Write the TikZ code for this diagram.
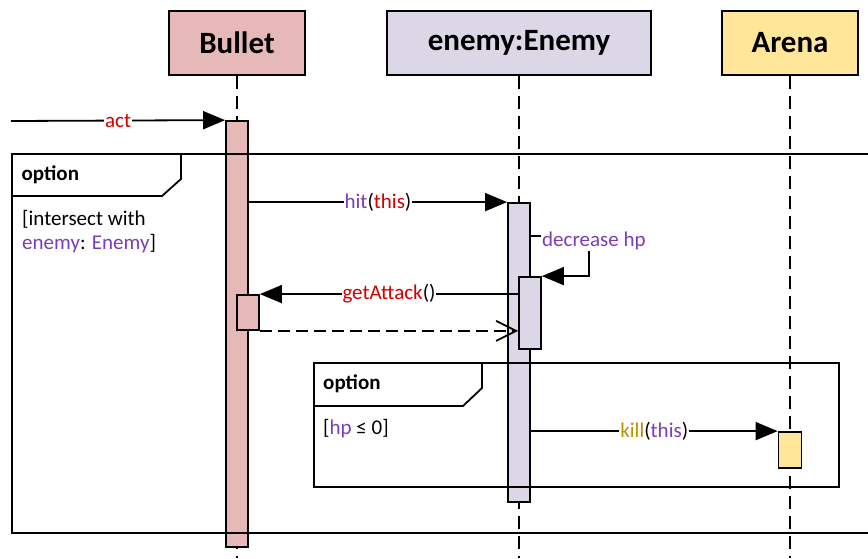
\documentclass[tikz,border=0pt]{standalone}
\usepackage{fontspec}
\setmainfont{Carlito}
\usepackage{xcolor}
\usepackage{tikz}
\usetikzlibrary{arrows.meta, positioning, calc}

\definecolor{bulletpink}{HTML}{E6B9B8}
\definecolor{enemylilac}{HTML}{DCD7E6}
\definecolor{arenagold}{HTML}{FFE699}
\definecolor{txtpurple}{HTML}{7A3DB8}
\definecolor{txtred}{HTML}{D00000}
\definecolor{txtgold}{HTML}{BF9000}

\newcommand{\mpurple}[1]{\textcolor{txtpurple}{#1}}
\newcommand{\mred}[1]{\textcolor{txtred}{#1}}
\newcommand{\mgold}[1]{\textcolor{txtgold}{#1}}

\begin{document}
\begin{tikzpicture}[
  x=1pt, y=-1pt,
  font=\fontsize{21}{24}\selectfont,
  obj/.style   = {draw, line width=2pt, minimum width=136pt,
                  minimum height=64pt, inner sep=0pt,
                  font=\fontsize{31}{36}\selectfont\bfseries},
  life/.style  = {line width=1.8pt, dash pattern=on 13pt off 7pt},
  bar/.style   = {draw, line width=1.8pt, minimum width=22pt, inner sep=0pt},
  msg/.style   = {-{Triangle[length=22pt,width=18pt]}, line width=1.8pt},
  ret/.style   = {-{Straight Barb[length=20pt,width=20pt]}, line width=1.8pt,
                  dash pattern=on 12pt off 6pt},
  lbl/.style   = {fill=white, inner sep=1pt},
  frag/.style  = {draw, line width=1.8pt, anchor=north west, inner sep=0pt},
  fragline/.style = {line width=1.8pt},
  tag/.style   = {anchor=west, inner sep=0pt,
                  font=\fontsize{21}{24}\selectfont\bfseries},
  guard/.style = {align=left, inner sep=0pt},
]

\useasboundingbox (0,0) rectangle (868,558);
\clip (0,0) rectangle (868,558);

%% Participants
\node[obj, fill=bulletpink] (bullet) at (237,43) {Bullet};
\node[obj, fill=enemylilac, minimum width=264pt] (enemy) at (519,43) {enemy:Enemy};
\node[obj, fill=arenagold] (arena) at (790,43) {Arena};

%% Lifelines
\coordinate (bottom) at (0,558);
\draw[life] (bullet.south) -- (bullet.south |- bottom);
\draw[life] (enemy.south)  -- (enemy.south |- bottom);
\draw[life] (arena.south)  -- (arena.south |- bottom);

%% Activation bars
\node[bar, fill=bulletpink, minimum height=426pt] (bulletbar) at (237,334) {};
\node[bar, fill=bulletpink, minimum height=35pt]  (bulletsub) at (248,312.5) {};
\node[bar, fill=enemylilac, minimum height=299pt] (enemybar)  at (519,352.5) {};
\node[bar, fill=enemylilac, minimum height=72pt]  (enemysub)  at (530,313) {};
\node[bar, fill=arenagold, minimum width=23pt, minimum height=36pt] (arenabar) at (790,450) {};

%% Outer option fragment
\node[frag, minimum width=869pt, minimum height=379pt] (optA) at (11,153) {};
\draw[fragline] (optA.north west) ++(170,0) -- ++(0,26) -- ++(-19,17) -- ++(-151,0);
\node[tag] (optAtag) at ($(optA.north west)+(10.5,22)$) {option};
\node[guard, anchor=north west] (optAguard) at ($(optA.north west)+(11,57)$)
     {[intersect with\\
      \mpurple{enemy}: \mpurple{Enemy}]};

%% Inner option fragment
\node[frag, minimum width=525pt, minimum height=124pt] (optB) at (313,362) {};
\draw[fragline] (optB.north west) ++(169,0) -- ++(0,26) -- ++(-19,18) -- ++(-150,0);
\node[tag] (optBtag) at ($(optB.north west)+(10,22)$) {option};
\node[guard, anchor=west] (optBguard) at ($(optB.north west)+(10,67)$)
     {[\mpurple{hp} ≤ 0]};

%% Messages
\coordinate (actstart) at (11,121);
\draw[msg] (actstart) -- node[lbl] {\mred{act}} (bulletbar.north west);

\draw[msg] (bulletbar.east |- enemybar.north) --
     node[lbl] {\mpurple{hit}(\mred{this})} (enemybar.north west);

\coordinate (hpturn) at (589,236);
\draw[msg] (enemybar.east |- hpturn) -- (hpturn) |- (enemysub.north east);
\node[lbl, anchor=west] (hplbl) at (541,241) {\mpurple{decrease hp}};

\draw[msg] (enemysub.west |- bulletsub.north) --
     node[lbl] {\mred{getAttack}()} (bulletsub.north east);
\draw[ret] (bulletsub.south east) -- (enemysub.west |- bulletsub.south);

\draw[msg] (enemybar.east |- arenabar.north) --
     node[lbl] {\mgold{kill}(\mpurple{this})} (arenabar.north west);

\end{tikzpicture}
\end{document}
